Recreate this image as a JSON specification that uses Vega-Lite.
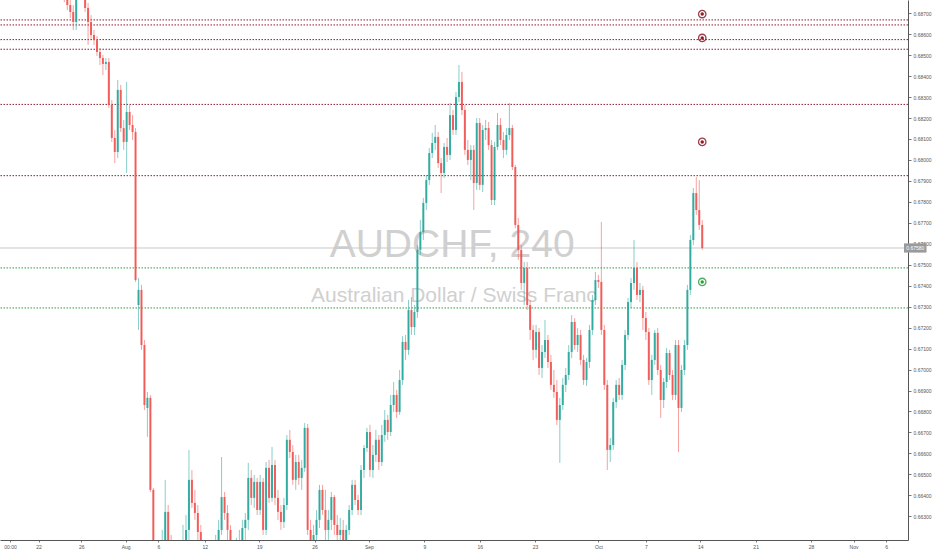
{
  "$schema": "https://vega.github.io/schema/vega-lite/v6.json",
  "width": 908,
  "height": 540,
  "autosize": {"type": "none"},
  "padding": {"left": 0, "top": 0, "right": 24, "bottom": 10},
  "background": "#ffffff",
  "config": {"view": {"stroke": null}, "font": "Liberation Sans"},
  "datasets": {
    "levels": [
      {"p": 0.68668, "k": "r"}, {"p": 0.68644, "k": "r"}, {"p": 0.68574, "k": "r"},
      {"p": 0.68528, "k": "r"}, {"p": 0.68265, "k": "r"}, {"p": 0.67925, "k": "r"},
      {"p": 0.67485, "k": "g"}, {"p": 0.67294, "k": "g"}
    ],
    "marks": [
      {"t": 235, "p": 0.68696, "k": "r"}, {"t": 235, "p": 0.68582, "k": "r"},
      {"t": 235, "p": 0.68086, "k": "r"}, {"t": 235, "p": 0.67418, "k": "g"}
    ],
    "last": [{"p": 0.6758, "label": "0.67580"}],
    "candles": [
      {"t":20,"o":0.68835,"h":0.68882,"l":0.68753,"c":0.68787},
      {"t":21,"o":0.68787,"h":0.68811,"l":0.68715,"c":0.68739},
      {"t":22,"o":0.68739,"h":0.68773,"l":0.68677,"c":0.68706},
      {"t":23,"o":0.68706,"h":0.68739,"l":0.6862,"c":0.68658},
      {"t":24,"o":0.68658,"h":0.68811,"l":0.6862,"c":0.68787},
      {"t":25,"o":0.68787,"h":0.68906,"l":0.68763,"c":0.68858},
      {"t":26,"o":0.68858,"h":0.68906,"l":0.68773,"c":0.68811},
      {"t":27,"o":0.68811,"h":0.68835,"l":0.68706,"c":0.68725},
      {"t":28,"o":0.68725,"h":0.68749,"l":0.68548,"c":0.68658},
      {"t":29,"o":0.68658,"h":0.68691,"l":0.68572,"c":0.68596},
      {"t":30,"o":0.68596,"h":0.6862,"l":0.68548,"c":0.68572},
      {"t":31,"o":0.68572,"h":0.68591,"l":0.68496,"c":0.68515},
      {"t":32,"o":0.68515,"h":0.68534,"l":0.68453,"c":0.68486},
      {"t":33,"o":0.68486,"h":0.68501,"l":0.68405,"c":0.68458},
      {"t":34,"o":0.68458,"h":0.68486,"l":0.68429,"c":0.68467},
      {"t":35,"o":0.68467,"h":0.68486,"l":0.68248,"c":0.68262},
      {"t":36,"o":0.68262,"h":0.68286,"l":0.68086,"c":0.68105},
      {"t":37,"o":0.68105,"h":0.68143,"l":0.67985,"c":0.68038},
      {"t":38,"o":0.68038,"h":0.68381,"l":0.68009,"c":0.68334},
      {"t":39,"o":0.68334,"h":0.68358,"l":0.68133,"c":0.68152},
      {"t":40,"o":0.68152,"h":0.68191,"l":0.68048,"c":0.68086},
      {"t":41,"o":0.68086,"h":0.68372,"l":0.67938,"c":0.68229},
      {"t":42,"o":0.68229,"h":0.68262,"l":0.68143,"c":0.68167},
      {"t":43,"o":0.68167,"h":0.68214,"l":0.68095,"c":0.68133},
      {"t":44,"o":0.68133,"h":0.68152,"l":0.67418,"c":0.67427},
      {"t":45,"o":0.67308,"h":0.67437,"l":0.67189,"c":0.6738},
      {"t":46,"o":0.6738,"h":0.67404,"l":0.67094,"c":0.67117},
      {"t":47,"o":0.67117,"h":0.67141,"l":0.66807,"c":0.66831},
      {"t":48,"o":0.66817,"h":0.66893,"l":0.66679,"c":0.66865},
      {"t":49,"o":0.66865,"h":0.66879,"l":0.66416,"c":0.66426},
      {"t":50,"o":0.66426,"h":0.66435,"l":0.66068,"c":0.66092},
      {"t":51,"o":0.66092,"h":0.66139,"l":0.65901,"c":0.65997},
      {"t":52,"o":0.65997,"h":0.66116,"l":0.65901,"c":0.66044},
      {"t":53,"o":0.66044,"h":0.66235,"l":0.65949,"c":0.66187},
      {"t":54,"o":0.66187,"h":0.66474,"l":0.66092,"c":0.66321},
      {"t":55,"o":0.66321,"h":0.66354,"l":0.66092,"c":0.66163},
      {"t":56,"o":0.66163,"h":0.66211,"l":0.65997,"c":0.66092},
      {"t":57,"o":0.66092,"h":0.66139,"l":0.65949,"c":0.6602},
      {"t":58,"o":0.6602,"h":0.66116,"l":0.65949,"c":0.66068},
      {"t":59,"o":0.66068,"h":0.66187,"l":0.65997,"c":0.66116},
      {"t":60,"o":0.66116,"h":0.66259,"l":0.66044,"c":0.66187},
      {"t":61,"o":0.66187,"h":0.66306,"l":0.66092,"c":0.66235},
      {"t":62,"o":0.66235,"h":0.66617,"l":0.66163,"c":0.66474},
      {"t":63,"o":0.66474,"h":0.66521,"l":0.6634,"c":0.66364},
      {"t":64,"o":0.66364,"h":0.66426,"l":0.66283,"c":0.66316},
      {"t":65,"o":0.66316,"h":0.66354,"l":0.66163,"c":0.66225},
      {"t":66,"o":0.66225,"h":0.66259,"l":0.66092,"c":0.66149},
      {"t":67,"o":0.66149,"h":0.66187,"l":0.6602,"c":0.66092},
      {"t":68,"o":0.66092,"h":0.66163,"l":0.65997,"c":0.66116},
      {"t":69,"o":0.66116,"h":0.66149,"l":0.65973,"c":0.66068},
      {"t":70,"o":0.66068,"h":0.66187,"l":0.6602,"c":0.66139},
      {"t":71,"o":0.66139,"h":0.66211,"l":0.66092,"c":0.66163},
      {"t":72,"o":0.66163,"h":0.66283,"l":0.66116,"c":0.66235},
      {"t":73,"o":0.66235,"h":0.66583,"l":0.66211,"c":0.66392},
      {"t":74,"o":0.66392,"h":0.66416,"l":0.66283,"c":0.66316},
      {"t":75,"o":0.66316,"h":0.66354,"l":0.66187,"c":0.66235},
      {"t":76,"o":0.66235,"h":0.66259,"l":0.66116,"c":0.66149},
      {"t":77,"o":0.66149,"h":0.66187,"l":0.66044,"c":0.66116},
      {"t":78,"o":0.66116,"h":0.66197,"l":0.66068,"c":0.66163},
      {"t":79,"o":0.66163,"h":0.66235,"l":0.66116,"c":0.66187},
      {"t":80,"o":0.66187,"h":0.66283,"l":0.66149,"c":0.66244},
      {"t":81,"o":0.66244,"h":0.66316,"l":0.66187,"c":0.66283},
      {"t":82,"o":0.66283,"h":0.66555,"l":0.66235,"c":0.66483},
      {"t":83,"o":0.66483,"h":0.66521,"l":0.66354,"c":0.66388},
      {"t":84,"o":0.66388,"h":0.66497,"l":0.6634,"c":0.66464},
      {"t":85,"o":0.66464,"h":0.66483,"l":0.66306,"c":0.6633},
      {"t":86,"o":0.6633,"h":0.66497,"l":0.66306,"c":0.66464},
      {"t":87,"o":0.66464,"h":0.66483,"l":0.66211,"c":0.66235},
      {"t":88,"o":0.66235,"h":0.66559,"l":0.66211,"c":0.66531},
      {"t":89,"o":0.66531,"h":0.66569,"l":0.66364,"c":0.66388},
      {"t":90,"o":0.66388,"h":0.66631,"l":0.66369,"c":0.66545},
      {"t":91,"o":0.66545,"h":0.66569,"l":0.66354,"c":0.66388},
      {"t":92,"o":0.66388,"h":0.66426,"l":0.66283,"c":0.66321},
      {"t":93,"o":0.66321,"h":0.66354,"l":0.66235,"c":0.66273},
      {"t":94,"o":0.66273,"h":0.66388,"l":0.66244,"c":0.66354},
      {"t":95,"o":0.66354,"h":0.66688,"l":0.6633,"c":0.66665},
      {"t":96,"o":0.66665,"h":0.66712,"l":0.66578,"c":0.66607},
      {"t":97,"o":0.66607,"h":0.6664,"l":0.6645,"c":0.66474},
      {"t":98,"o":0.66474,"h":0.66593,"l":0.66426,"c":0.66559},
      {"t":99,"o":0.66559,"h":0.66593,"l":0.6645,"c":0.66483},
      {"t":100,"o":0.66483,"h":0.66569,"l":0.66426,"c":0.66531},
      {"t":101,"o":0.66531,"h":0.66745,"l":0.66512,"c":0.66722},
      {"t":102,"o":0.66722,"h":0.66741,"l":0.66211,"c":0.66235},
      {"t":103,"o":0.66235,"h":0.66283,"l":0.66092,"c":0.66163},
      {"t":104,"o":0.66163,"h":0.66259,"l":0.66116,"c":0.66211},
      {"t":105,"o":0.66211,"h":0.6633,"l":0.66163,"c":0.66283},
      {"t":106,"o":0.66283,"h":0.6645,"l":0.66244,"c":0.66426},
      {"t":107,"o":0.66426,"h":0.6645,"l":0.66306,"c":0.6633},
      {"t":108,"o":0.6633,"h":0.66426,"l":0.66187,"c":0.66235},
      {"t":109,"o":0.66235,"h":0.6633,"l":0.66187,"c":0.66283},
      {"t":110,"o":0.66283,"h":0.66416,"l":0.66235,"c":0.66392},
      {"t":111,"o":0.66392,"h":0.66402,"l":0.66211,"c":0.66259},
      {"t":112,"o":0.66259,"h":0.66306,"l":0.66163,"c":0.66211},
      {"t":113,"o":0.66211,"h":0.66292,"l":0.66149,"c":0.66235},
      {"t":114,"o":0.66235,"h":0.66283,"l":0.66139,"c":0.66187},
      {"t":115,"o":0.66187,"h":0.66259,"l":0.66149,"c":0.66235},
      {"t":116,"o":0.66235,"h":0.66354,"l":0.66211,"c":0.6633},
      {"t":117,"o":0.6633,"h":0.66474,"l":0.66306,"c":0.6645},
      {"t":118,"o":0.6645,"h":0.66474,"l":0.66354,"c":0.66378},
      {"t":119,"o":0.66378,"h":0.66402,"l":0.66306,"c":0.6633},
      {"t":120,"o":0.6633,"h":0.66545,"l":0.66306,"c":0.66521},
      {"t":121,"o":0.66521,"h":0.6664,"l":0.66483,"c":0.66626},
      {"t":122,"o":0.66626,"h":0.66722,"l":0.66607,"c":0.66702},
      {"t":123,"o":0.66702,"h":0.66736,"l":0.66488,"c":0.66521},
      {"t":124,"o":0.66521,"h":0.6664,"l":0.66483,"c":0.66593},
      {"t":125,"o":0.66593,"h":0.66712,"l":0.66559,"c":0.66665},
      {"t":126,"o":0.66665,"h":0.66688,"l":0.66521,"c":0.66559},
      {"t":127,"o":0.66559,"h":0.66736,"l":0.6654,"c":0.66688},
      {"t":128,"o":0.66688,"h":0.66807,"l":0.66655,"c":0.6676},
      {"t":129,"o":0.6676,"h":0.66784,"l":0.66665,"c":0.66702},
      {"t":130,"o":0.66702,"h":0.66879,"l":0.66683,"c":0.66831},
      {"t":131,"o":0.66831,"h":0.66941,"l":0.66798,"c":0.66879},
      {"t":132,"o":0.66879,"h":0.66903,"l":0.66769,"c":0.66798},
      {"t":133,"o":0.66798,"h":0.66998,"l":0.66784,"c":0.6695},
      {"t":134,"o":0.6695,"h":0.6716,"l":0.66927,"c":0.67132},
      {"t":135,"o":0.67132,"h":0.67165,"l":0.67046,"c":0.67094},
      {"t":136,"o":0.67094,"h":0.67332,"l":0.6707,"c":0.67284},
      {"t":137,"o":0.67284,"h":0.67346,"l":0.67165,"c":0.67203},
      {"t":138,"o":0.67203,"h":0.67308,"l":0.67165,"c":0.67275},
      {"t":139,"o":0.67275,"h":0.67594,"l":0.67246,"c":0.67571},
      {"t":140,"o":0.67571,"h":0.67714,"l":0.67547,"c":0.67656},
      {"t":141,"o":0.67656,"h":0.67819,"l":0.67618,"c":0.67795},
      {"t":142,"o":0.67795,"h":0.67928,"l":0.67761,"c":0.67904},
      {"t":143,"o":0.67904,"h":0.68057,"l":0.67881,"c":0.68033},
      {"t":144,"o":0.68033,"h":0.68129,"l":0.68009,"c":0.68081},
      {"t":145,"o":0.68081,"h":0.68167,"l":0.68048,"c":0.6811},
      {"t":146,"o":0.6811,"h":0.68133,"l":0.67962,"c":0.67985},
      {"t":147,"o":0.67985,"h":0.68009,"l":0.67842,"c":0.67938},
      {"t":148,"o":0.67938,"h":0.68081,"l":0.67914,"c":0.68062},
      {"t":149,"o":0.68062,"h":0.68105,"l":0.6799,"c":0.68024},
      {"t":150,"o":0.68024,"h":0.68272,"l":0.68,"c":0.68214},
      {"t":151,"o":0.68214,"h":0.68238,"l":0.68119,"c":0.68143},
      {"t":152,"o":0.68143,"h":0.68324,"l":0.68119,"c":0.683},
      {"t":153,"o":0.683,"h":0.68453,"l":0.68276,"c":0.68372},
      {"t":154,"o":0.68372,"h":0.6842,"l":0.68214,"c":0.68238},
      {"t":155,"o":0.68238,"h":0.68262,"l":0.68024,"c":0.68048},
      {"t":156,"o":0.68048,"h":0.68095,"l":0.67976,"c":0.68},
      {"t":157,"o":0.68,"h":0.68071,"l":0.67904,"c":0.68048},
      {"t":158,"o":0.68048,"h":0.68071,"l":0.67761,"c":0.6789},
      {"t":159,"o":0.6789,"h":0.682,"l":0.67857,"c":0.68176},
      {"t":160,"o":0.68176,"h":0.682,"l":0.67857,"c":0.67881},
      {"t":161,"o":0.67881,"h":0.68167,"l":0.67847,"c":0.68143},
      {"t":162,"o":0.68143,"h":0.68191,"l":0.68095,"c":0.68152},
      {"t":163,"o":0.68152,"h":0.68181,"l":0.68048,"c":0.68071},
      {"t":164,"o":0.68071,"h":0.68095,"l":0.67785,"c":0.67809},
      {"t":165,"o":0.67809,"h":0.68086,"l":0.67785,"c":0.68062},
      {"t":166,"o":0.68062,"h":0.68224,"l":0.68048,"c":0.68167},
      {"t":167,"o":0.68167,"h":0.682,"l":0.68071,"c":0.68095},
      {"t":168,"o":0.68095,"h":0.68133,"l":0.68009,"c":0.68048},
      {"t":169,"o":0.68048,"h":0.68152,"l":0.68024,"c":0.68119},
      {"t":170,"o":0.68119,"h":0.68272,"l":0.68095,"c":0.68152},
      {"t":171,"o":0.68152,"h":0.68167,"l":0.67952,"c":0.67966},
      {"t":172,"o":0.67966,"h":0.67976,"l":0.67675,"c":0.6769},
      {"t":173,"o":0.6769,"h":0.67723,"l":0.67523,"c":0.67571},
      {"t":174,"o":0.67571,"h":0.67594,"l":0.6738,"c":0.67413},
      {"t":175,"o":0.67413,"h":0.67513,"l":0.67308,"c":0.67485},
      {"t":176,"o":0.67485,"h":0.67513,"l":0.67284,"c":0.67308},
      {"t":177,"o":0.67308,"h":0.67332,"l":0.67141,"c":0.67189},
      {"t":178,"o":0.67189,"h":0.67213,"l":0.67046,"c":0.67094},
      {"t":179,"o":0.67094,"h":0.67213,"l":0.67055,"c":0.67179},
      {"t":180,"o":0.67179,"h":0.67198,"l":0.66974,"c":0.67008},
      {"t":181,"o":0.67008,"h":0.67117,"l":0.6696,"c":0.67084},
      {"t":182,"o":0.67084,"h":0.67237,"l":0.67055,"c":0.67141},
      {"t":183,"o":0.67141,"h":0.67165,"l":0.67008,"c":0.67036},
      {"t":184,"o":0.67036,"h":0.6707,"l":0.66903,"c":0.66927},
      {"t":185,"o":0.66927,"h":0.66998,"l":0.66865,"c":0.66893},
      {"t":186,"o":0.66893,"h":0.6695,"l":0.66736,"c":0.6676},
      {"t":187,"o":0.6676,"h":0.66865,"l":0.66555,"c":0.66831},
      {"t":188,"o":0.66831,"h":0.6696,"l":0.66807,"c":0.66927},
      {"t":189,"o":0.66927,"h":0.67008,"l":0.66893,"c":0.66974},
      {"t":190,"o":0.66974,"h":0.67117,"l":0.6695,"c":0.67084},
      {"t":191,"o":0.67084,"h":0.6726,"l":0.67055,"c":0.67227},
      {"t":192,"o":0.67227,"h":0.67246,"l":0.67094,"c":0.67117},
      {"t":193,"o":0.67117,"h":0.67198,"l":0.67084,"c":0.67165},
      {"t":194,"o":0.67165,"h":0.67189,"l":0.67022,"c":0.67046},
      {"t":195,"o":0.67046,"h":0.6707,"l":0.66927,"c":0.6695},
      {"t":196,"o":0.6695,"h":0.67055,"l":0.66922,"c":0.67036},
      {"t":197,"o":0.67036,"h":0.67213,"l":0.67008,"c":0.67189},
      {"t":198,"o":0.67189,"h":0.67356,"l":0.67165,"c":0.67332},
      {"t":199,"o":0.67332,"h":0.67466,"l":0.67308,"c":0.67427},
      {"t":200,"o":0.67427,"h":0.67451,"l":0.67389,"c":0.67418},
      {"t":201,"o":0.67418,"h":0.67704,"l":0.67165,"c":0.67189},
      {"t":202,"o":0.67189,"h":0.67213,"l":0.66903,"c":0.66927},
      {"t":203,"o":0.66927,"h":0.6695,"l":0.66521,"c":0.66617},
      {"t":204,"o":0.66617,"h":0.66674,"l":0.66559,"c":0.6664},
      {"t":205,"o":0.6664,"h":0.66865,"l":0.66617,"c":0.66845},
      {"t":206,"o":0.66845,"h":0.6695,"l":0.66817,"c":0.66927},
      {"t":207,"o":0.66927,"h":0.6696,"l":0.66855,"c":0.66879},
      {"t":208,"o":0.66879,"h":0.67046,"l":0.66855,"c":0.67022},
      {"t":209,"o":0.67022,"h":0.67189,"l":0.66998,"c":0.67165},
      {"t":210,"o":0.67165,"h":0.67342,"l":0.67141,"c":0.67322},
      {"t":211,"o":0.67322,"h":0.67437,"l":0.67294,"c":0.67413},
      {"t":212,"o":0.67413,"h":0.67618,"l":0.6738,"c":0.67485},
      {"t":213,"o":0.67485,"h":0.67513,"l":0.67332,"c":0.67356},
      {"t":214,"o":0.67356,"h":0.67413,"l":0.67322,"c":0.6738},
      {"t":215,"o":0.6738,"h":0.67399,"l":0.67189,"c":0.67246},
      {"t":216,"o":0.67246,"h":0.67275,"l":0.67141,"c":0.67179},
      {"t":217,"o":0.67179,"h":0.67198,"l":0.66927,"c":0.6695},
      {"t":218,"o":0.6695,"h":0.6707,"l":0.66879,"c":0.67046},
      {"t":219,"o":0.67046,"h":0.67189,"l":0.67022,"c":0.67175},
      {"t":220,"o":0.67175,"h":0.67198,"l":0.66974,"c":0.66998},
      {"t":221,"o":0.66998,"h":0.67022,"l":0.66769,"c":0.66855},
      {"t":222,"o":0.66855,"h":0.6696,"l":0.66817,"c":0.66941},
      {"t":223,"o":0.66941,"h":0.67103,"l":0.66912,"c":0.67079},
      {"t":224,"o":0.67079,"h":0.67094,"l":0.6695,"c":0.66974},
      {"t":225,"o":0.66974,"h":0.66998,"l":0.66855,"c":0.66879},
      {"t":226,"o":0.66879,"h":0.67141,"l":0.66855,"c":0.67117},
      {"t":227,"o":0.67117,"h":0.67141,"l":0.66607,"c":0.66817},
      {"t":228,"o":0.66817,"h":0.67022,"l":0.66798,"c":0.66998},
      {"t":229,"o":0.66998,"h":0.67141,"l":0.66974,"c":0.67117},
      {"t":230,"o":0.67117,"h":0.67404,"l":0.67094,"c":0.6738},
      {"t":231,"o":0.6738,"h":0.67642,"l":0.67356,"c":0.67618},
      {"t":232,"o":0.67618,"h":0.67866,"l":0.67594,"c":0.67842},
      {"t":233,"o":0.67842,"h":0.67919,"l":0.67737,"c":0.67761},
      {"t":234,"o":0.67761,"h":0.67904,"l":0.67666,"c":0.6769},
      {"t":235,"o":0.6769,"h":0.67714,"l":0.67571,"c":0.6758}
    ]
  },
  "encoding": {
    "x": {
      "type": "quantitative",
      "scale": {"domain": [0, 302.67], "nice": false, "zero": false},
      "axis": {
        "orient": "bottom", "title": null, "grid": false,
        "values": [1.67, 11.33, 25.67, 40.67, 51.67, 67.33, 85.67, 104.33, 122.67, 141.33, 160, 178.67, 200, 216, 234.33, 253, 271.67, 286, 297],
        "labelExpr": "datum.value < 5 ? '00:00' : datum.value < 15 ? '22' : datum.value < 30 ? '26' : datum.value < 45 ? 'Aug' : datum.value < 60 ? '6' : datum.value < 75 ? '12' : datum.value < 95 ? '19' : datum.value < 110 ? '26' : datum.value < 130 ? 'Sep' : datum.value < 150 ? '9' : datum.value < 170 ? '16' : datum.value < 190 ? '23' : datum.value < 208 ? 'Oct' : datum.value < 225 ? '7' : datum.value < 245 ? '14' : datum.value < 262 ? '21' : datum.value < 280 ? '28' : datum.value < 292 ? 'Nov' : '6'",
        "labelFontSize": 5, "labelColor": "#555555", "labelAngle": 0, "labelFlush": false, "labelOverlap": false,
        "labelPadding": 2, "tickSize": 2, "tickColor": "#777777", "domainColor": "#555555"
      }
    },
    "y": {
      "type": "quantitative",
      "scale": {"domain": [0.66187, 0.68763], "nice": false, "zero": false},
      "axis": {
        "orient": "right", "title": null, "grid": false,
        "values": [0.663, 0.664, 0.665, 0.666, 0.667, 0.668, 0.669, 0.67, 0.671, 0.672, 0.673, 0.674, 0.675, 0.676, 0.677, 0.678, 0.679, 0.68, 0.681, 0.682, 0.683, 0.684, 0.685, 0.686, 0.687],
        "format": ".5f", "labelFontSize": 5, "labelColor": "#555555", "labelPadding": 2,
        "tickSize": 3, "tickColor": "#777777", "domainColor": "#555555", "labelOverlap": false
      }
    }
  },
  "layer": [
    {
      "data": {"name": "candles"},
      "mark": {"type": "rule", "opacity": 0},
      "encoding": {
        "x": {"field": "t"},
        "y": {"field": "c"}
      }
    },
    {
      "data": {"values": [{"txt": "AUDCHF, 240"}]},
      "mark": {"type": "text", "font": "Liberation Sans", "fontSize": 39, "color": "#d0d0d0", "align": "center", "baseline": "middle"},
      "encoding": {
        "text": {"field": "txt"},
        "x": {"datum": 150.7},
        "y": {"datum": 0.67594}
      }
    },
    {
      "data": {"values": [{"txt": "Australian Dollar / Swiss Franc"}]},
      "mark": {"type": "text", "font": "Liberation Sans", "fontSize": 21, "color": "#d0d0d0", "align": "center", "baseline": "middle"},
      "encoding": {
        "text": {"field": "txt"},
        "x": {"datum": 151.3},
        "y": {"datum": 0.67351}
      }
    },
    {
      "data": {"name": "levels"},
      "mark": {"type": "rule", "strokeWidth": 1, "strokeDash": [1.5, 1.5]},
      "encoding": {
        "x": null,
        "y": {"field": "p"},
        "color": {"field": "k", "type": "nominal", "scale": {"domain": ["r", "g"], "range": ["#8d1c2c", "#2f9e44"]}, "legend": null}
      }
    },
    {
      "data": {"name": "last"},
      "mark": {"type": "rule", "strokeWidth": 1, "color": "#c8c8c8"},
      "encoding": {
        "x": null,
        "y": {"field": "p"}
      }
    },
    {
      "data": {"name": "candles"},
      "mark": {"type": "rule", "strokeWidth": 1, "opacity": 0.55, "clip": true},
      "encoding": {
        "x": {"field": "t"},
        "y": {"field": "l"},
        "y2": {"field": "h"},
        "color": {"condition": {"test": "datum.c >= datum.o", "value": "#26a69a"}, "value": "#ef5350"}
      }
    },
    {
      "data": {"name": "candles"},
      "mark": {"type": "bar", "size": 2, "clip": true, "opacity": 0.9},
      "encoding": {
        "x": {"field": "t"},
        "y": {"field": "o"},
        "y2": {"field": "c"},
        "color": {"condition": {"test": "datum.c >= datum.o", "value": "#26a69a"}, "value": "#ef5350"}
      }
    },
    {
      "data": {"name": "marks"},
      "mark": {"type": "point", "shape": "circle", "size": 55, "filled": false, "strokeWidth": 1.3, "opacity": 0.85},
      "encoding": {
        "x": {"field": "t"},
        "y": {"field": "p"},
        "color": {"field": "k", "type": "nominal", "scale": {"domain": ["r", "g"], "range": ["#8d1c2c", "#2f9e44"]}, "legend": null}
      }
    },
    {
      "data": {"name": "marks"},
      "mark": {"type": "point", "shape": "circle", "size": 12, "filled": true, "opacity": 1},
      "encoding": {
        "x": {"field": "t"},
        "y": {"field": "p"},
        "color": {"field": "k", "type": "nominal", "scale": {"domain": ["r", "g"], "range": ["#8d1c2c", "#2f9e44"]}, "legend": null}
      }
    },
    {
      "data": {"name": "last"},
      "mark": {"type": "rect", "color": "#9a9a9a"},
      "encoding": {
        "x": {"datum": 303.0},
        "x2": {"datum": 310.6},
        "y": {"datum": 0.67558},
        "y2": {"datum": 0.67602}
      }
    },
    {
      "data": {"name": "last"},
      "mark": {"type": "text", "color": "#ffffff", "fontSize": 5, "align": "center", "baseline": "middle"},
      "encoding": {
        "text": {"field": "label"},
        "x": {"datum": 306.8},
        "y": {"field": "p"}
      }
    }
  ]
}
